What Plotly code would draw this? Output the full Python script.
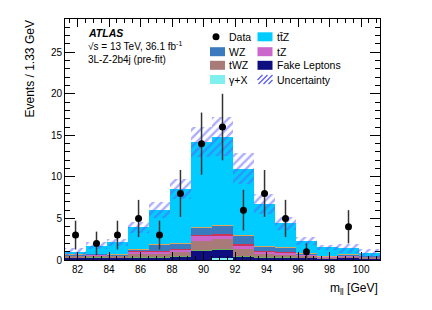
import numpy as np
import plotly.graph_objects as go

# ---------------- data ----------------
bin_centers = [81.87, 83.20, 84.53, 85.87, 87.20, 88.53, 89.87, 91.20,
               92.53, 93.87, 95.20, 96.53, 97.87, 99.20, 100.53]
bin_width = 1.3333

data_counts = [3, 2, 3, 5, 3, 8, 14, 16, 6, 8, 5, 1, 0, 4, 0]

gamma_x = [0.02, 0.02, 0.02, 0.03, 0.03, 0.03, 0.05, 0.30, 0.03, 0.02, 0.02, 0.02, 0.01, 0.02, 0.01]
fake    = [0.28, 0.28, 0.28, 0.32, 0.27, 0.37, 1.07, 0.98, 0.42, 0.33, 0.28, 0.28, 0.19, 0.28, 0.19]
other_g = [0.03, 0.03, 0.03, 0.05, 0.05, 0.06, 0.10, 0.10, 0.06, 0.04, 0.04, 0.03, 0.02, 0.03, 0.02]
twz     = [0.17, 0.27, 0.17, 0.40, 0.45, 0.54, 1.10, 1.11, 0.77, 0.31, 0.26, 0.22, 0.13, 0.12, 0.18]
tz      = [0.05, 0.05, 0.05, 0.20, 0.20, 0.28, 0.57, 0.48, 0.52, 0.30, 0.35, 0.10, 0.03, 0.05, 0.02]
other_r = [0.02, 0.02, 0.02, 0.04, 0.05, 0.08, 0.12, 0.12, 0.08, 0.04, 0.04, 0.02, 0.01, 0.02, 0.01]
wz      = [0.08, 0.08, 0.08, 0.28, 0.84, 0.57, 0.92, 1.04, 1.12, 0.64, 0.49, 0.13, 0.06, 0.20, 0.07]
other_o = [0.02, 0.02, 0.02, 0.04, 0.05, 0.06, 0.07, 0.07, 0.06, 0.04, 0.04, 0.02, 0.01, 0.02, 0.01]
ttz     = [0.33, 0.95, 1.45, 2.57, 4.06, 6.55, 10.20, 10.64, 7.94, 4.98, 2.88, 1.47, 1.10, 0.66, 0.29]
unc     = [0.45, 0.40, 0.40, 0.67, 1.00, 1.20, 1.77, 2.36, 1.90, 1.20, 0.80, 0.50, 0.30, 0.50, 0.50]

x_ticks = [82, 84, 86, 88, 90, 92, 94, 96, 98, 100]
y_ticks = [0, 5, 10, 15, 20, 25]

components = [
    ("γ+X", gamma_x, "#7ff0ee"),
    ("Fake Leptons", fake, "#0e0e80"),
    ("other1", other_g, "#6fae5a"),
    ("tWZ", twz, "#a87a78"),
    ("tZ", tz, "#cc66cc"),
    ("other2", other_r, "#cc3355"),
    ("WZ", wz, "#3c7ac0"),
    ("other3", other_o, "#d8a860"),
    ("tt̄Z", ttz, "#00ccff"),
]

FONT = "Liberation Sans, Arial, Helvetica, sans-serif"
HATCH = "#5a5aff"

fig = go.Figure()
base = np.zeros(len(bin_centers))
for name, vals, col in components:
    v = np.array(vals)
    fig.add_trace(go.Bar(x=bin_centers, y=v, base=base.copy(), width=bin_width,
                         marker=dict(color=col, line=dict(width=0)),
                         name=name, showlegend=False))
    base = base + v
total = base
unc_a = np.array(unc)
fig.add_trace(go.Bar(x=bin_centers, y=2 * unc_a, base=total - unc_a, width=bin_width,
                     marker=dict(color="rgba(0,0,0,0)", line=dict(width=0),
                                 pattern=dict(shape="/", fgcolor=HATCH,
                                              bgcolor="rgba(0,0,0,0)",
                                              size=6, solidity=0.4, fillmode="overlay")),
                     name="Uncertainty", showlegend=False))

dc = np.array(data_counts, dtype=float)
mask = dc > 0
fig.add_trace(go.Scatter(x=np.array(bin_centers)[mask], y=dc[mask], mode="markers",
                         marker=dict(color="black", size=7),
                         error_y=dict(type="data", array=np.sqrt(dc[mask]),
                                      color="#333333", thickness=1.5, width=0),
                         name="Data", showlegend=False))

# ---------- layout ----------
L, R, T, B = 65, 52, 19, 50
W, H = 432, 310
pw, ph = W - L - R, H - T - B


def PX(x):
    return (x - L) / pw


def PY(y):
    return (H - B - y) / ph


shapes = []
annotations = []

# legend
rows = [36.8, 51.7, 65.3, 79.5]
col1_box, col2_box = (210, 225), (257.5, 272.5)
col1_txt, col2_txt = 227, 275
legend_items = [
    (0, 1, "Data", None),
    (0, 2, "tt̄Z", "#00ccff"),
    (1, 1, "WZ", "#3c7ac0"),
    (1, 2, "tZ", "#cc66cc"),
    (2, 1, "tWZ", "#a87a78"),
    (2, 2, "Fake Leptons", "#0e0e80"),
    (3, 1, "γ+X", "#7ff0ee"),
    (3, 2, "Uncertainty", "hatch"),
]
for r, c, label, col in legend_items:
    yc = rows[r]
    bx = col1_box if c == 1 else col2_box
    tx = col1_txt if c == 1 else col2_txt
    y0, y1 = yc - 4.5, yc + 4.5
    if col is None:
        shapes.append(dict(type="circle", xref="paper", yref="paper",
                           x0=PX(216 - 3.5), x1=PX(216 + 3.5), y0=PY(yc + 3.5), y1=PY(yc - 3.5),
                           fillcolor="black", line=dict(width=0)))
    elif col == "hatch":
        x0, x1 = bx
        s = 5
        k = x0 - 9
        while k < x1:
            ax, ay, bxx, byy = k, y1, k + 9, y0
            if ax < x0:
                ay = y1 - (x0 - ax)
                ax = x0
            if bxx > x1:
                byy = y0 + (bxx - x1)
                bxx = x1
            if bxx > ax:
                shapes.append(dict(type="line", xref="paper", yref="paper",
                                   x0=PX(ax), y0=PY(ay), x1=PX(bxx), y1=PY(byy),
                                   line=dict(color=HATCH, width=1.2)))
            k += s
    else:
        shapes.append(dict(type="rect", xref="paper", yref="paper",
                           x0=PX(bx[0]), x1=PX(bx[1]), y0=PY(y1), y1=PY(y0),
                           fillcolor=col, line=dict(width=0)))
    annotations.append(dict(text=label, xref="paper", yref="paper", x=PX(tx), y=PY(yc),
                            xanchor="left", yanchor="middle", showarrow=False,
                            font=dict(family=FONT, size=10.5, color="black")))

# ATLAS label
annotations += [
    dict(text="<b><i>ATLAS</i></b>", xref="paper", yref="paper", x=PX(86), y=PY(33.3),
         xanchor="left", yanchor="middle", showarrow=False,
         font=dict(family=FONT, size=10.5, color="black")),
    dict(text="√s = 13 TeV, 36.1 fb<sup>-1</sup>", xref="paper", yref="paper", x=PX(86), y=PY(46),
         xanchor="left", yanchor="middle", showarrow=False,
         font=dict(family=FONT, size=10, color="black")),
    dict(text="3L-Z-2b4j (pre-fit)", xref="paper", yref="paper", x=PX(86), y=PY(59.3),
         xanchor="left", yanchor="middle", showarrow=False,
         font=dict(family=FONT, size=10, color="black")),
    dict(text="m<sub>ll</sub> [GeV]", xref="paper", yref="paper", x=1.0, y=PY(289),
         xanchor="right", yanchor="middle", showarrow=False,
         font=dict(family=FONT, size=12, color="black")),
    dict(text="Events / 1.33 GeV", xref="paper", yref="paper", x=PX(29), y=1.0,
         xanchor="center", yanchor="top", textangle=-90, showarrow=False,
         font=dict(family=FONT, size=12, color="black")),
]

axis_common = dict(showline=True, linecolor="black", linewidth=1, mirror="allticks",
                   ticks="inside", tickcolor="black", showgrid=False, zeroline=False,
                   tickfont=dict(family=FONT, size=10, color="black"))

fig.update_layout(
    width=W, height=H,
    margin=dict(l=L, r=R, t=T, b=B),
    paper_bgcolor="white", plot_bgcolor="white",
    barmode="overlay", bargap=0,
    showlegend=False,
    shapes=shapes, annotations=annotations,
    xaxis=dict(range=[81.2, 101.2], tickvals=x_ticks, ticktext=[str(v) for v in x_ticks],
               ticklen=8, tickwidth=1,
               minor=dict(ticks="inside", ticklen=4, dtick=0.5, tick0=80, tickcolor="black",
                          showgrid=False),
               **axis_common),
    yaxis=dict(range=[0, 29], tickvals=y_ticks, ticktext=[str(v) for v in y_ticks],
               ticklen=10, tickwidth=1,
               minor=dict(ticks="inside", ticklen=5, dtick=1, tick0=0, tickcolor="black",
                          showgrid=False),
               **axis_common),
)

fig.write_html("out.html", config={"displayModeBar": False},
               post_script="document.body.style.margin='0';document.body.style.padding='0';"
                           "document.documentElement.style.overflow='hidden';")
